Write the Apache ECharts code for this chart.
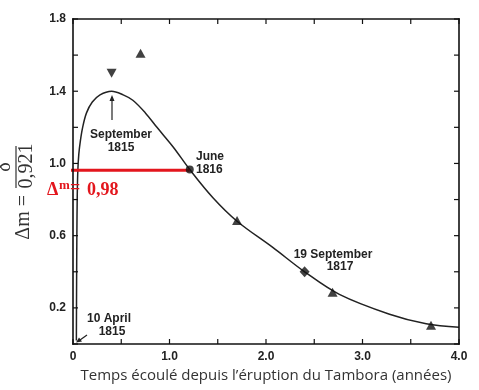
<!DOCTYPE html>
<html>
<head>
<meta charset="utf-8">
<script src="https://cdn.jsdelivr.net/npm/echarts@6/dist/echarts.min.js"></script>
<style>html,body{margin:0;padding:0;background:#fff}#c{width:479px;height:390px}</style>
</head>
<body>
<div id="c"></div>
<script>
// Fitted curve (time in years, Δm)
var curveX = [0.035, 0.037, 0.040, 0.044, 0.050, 0.060, 0.075, 0.10, 0.14, 0.20, 0.28, 0.40, 0.52, 0.62, 0.75, 0.87, 1.04, 1.21, 1.45, 1.70, 2.07, 2.40, 2.76, 3.28, 3.66, 4.0];
var curveY = [0.02, 0.30, 0.60, 0.82, 0.96, 1.05, 1.12, 1.20, 1.28, 1.34, 1.38, 1.40, 1.38, 1.35, 1.28, 1.20, 1.09, 0.966, 0.81, 0.68, 0.535, 0.40, 0.275, 0.165, 0.112, 0.093];
// Observations
var triUpX = [0.70, 1.70, 2.69, 3.71];
var triUpY = [1.61, 0.684, 0.286, 0.104];
var triDownX = [0.40];
var triDownY = [1.50];
var diamondX = [2.40];
var diamondY = [0.40];
var circleX = [1.21];
var circleY = [0.966];
// Red marker line
var redLineX = [-0.085, 1.21];
var redLineY = [0.963, 0.963];
// Ticks
var xTicks = [0, 0.5, 1, 1.5, 2, 2.5, 3, 3.5, 4];
var yTicks = [0, 0.2, 0.4, 0.6, 0.8, 1.0, 1.2, 1.4, 1.6, 1.8];
var xTickLabels = {0: '0', 1: '1.0', 2: '2.0', 3: '3.0', 4: '4.0'};
var yTickLabels = ['0.2', '0.6', '1.0', '1.4', '1.8'];

function pairs(xs, ys) { return xs.map(function (x, i) { return [x, ys[i]]; }); }

var chart = echarts.init(document.getElementById('c'));
function lblFont() { return {fontFamily: 'Liberation Sans', fontWeight: 'bold', fontSize: 12, color: '#222'}; }

chart.setOption({
  animation: false,
  grid: {left: 73, top: 19, right: 20, bottom: 46, show: false},
  xAxis: [{
    type: 'value', min: 0, max: 4, interval: 0.5,
    axisLine: {show: false}, axisTick: {show: false}, splitLine: {show: false},
    axisLabel: Object.assign({margin: 7, formatter: function (v) {
      return xTickLabels.hasOwnProperty(v) ? xTickLabels[v] : '';
    }}, lblFont()),
    name: 'Temps écoulé depuis l’éruption du Tambora (années)',
    nameLocation: 'middle', nameGap: 24,
    nameTextStyle: {fontFamily: 'Open Sans', fontSize: 15, color: '#333'}
  }],
  yAxis: [{
    type: 'value', min: 0, max: 1.8, interval: 0.2,
    axisLine: {show: false}, axisTick: {show: false}, splitLine: {show: false},
    axisLabel: Object.assign({margin: 7, formatter: function (v) {
      var s = v.toFixed(1);
      return yTickLabels.indexOf(s) >= 0 ? s : '';
    }}, lblFont())
  }],
  series: [
    {type: 'line', data: pairs(curveX, curveY), smooth: 0.35, showSymbol: false,
     lineStyle: {color: '#222', width: 1.5}, z: 2},
    {type: 'line', data: pairs(redLineX, redLineY), showSymbol: false, clip: false,
     lineStyle: {color: '#e3161d', width: 3}, z: 3},
    {type: 'scatter', data: pairs(triUpX, triUpY), symbol: 'triangle', symbolSize: [10, 9],
     itemStyle: {color: '#111'}, z: 4},
    {type: 'scatter', data: pairs(triDownX, triDownY), symbol: 'triangle', symbolRotate: 180, symbolSize: [10, 9],
     itemStyle: {color: '#111'}, z: 4},
    {type: 'scatter', data: pairs(diamondX, diamondY), symbol: 'diamond', symbolSize: [10, 11],
     itemStyle: {color: '#111'}, z: 4},
    {type: 'scatter', data: pairs(circleX, circleY), symbol: 'circle', symbolSize: 8,
     itemStyle: {color: '#111'}, z: 5}
  ]
});

// Frame and inward ticks as filled polygons, positioned through the axes' own scales
var X0 = chart.convertToPixel({xAxisIndex: 0}, 0);
var X1 = chart.convertToPixel({xAxisIndex: 0}, 4);
var Y0 = chart.convertToPixel({yAxisIndex: 0}, 0);
var Y1 = chart.convertToPixel({yAxisIndex: 0}, 1.8);
var frame = [];
var inks = ['#111111', '#121212', '#101010'];
var k = 0;
function box(xa, ya, xb, yb) {
  var l = Math.min(xa, xb), r = Math.max(xa, xb), tp = Math.min(ya, yb), b = Math.max(ya, yb);
  frame.push({type: 'polygon', z: 10, silent: true,
    shape: {points: [[l, tp], [r, tp], [r, b], [l, b]]},
    style: {fill: inks[(k++) % inks.length]}});
}
var hw = 0.8;
box(X0 - hw, Y0 - hw, X1 + hw, Y0 + hw);
box(X0 - hw, Y1 - hw, X1 + hw, Y1 + hw);
box(X0 - hw, Y1 - hw, X0 + hw, Y0 + hw);
box(X1 - hw, Y1 - hw, X1 + hw, Y0 + hw);
xTicks.forEach(function (v) {
  var px = chart.convertToPixel({xAxisIndex: 0}, v);
  box(px - 0.6, Y0, px + 0.6, Y0 - 5);
  box(px - 0.6, Y1, px + 0.6, Y1 + 5);
});
yTicks.forEach(function (v) {
  var py = chart.convertToPixel({yAxisIndex: 0}, v);
  box(X0, py - 0.6, X0 + 5, py + 0.6);
  box(X1, py - 0.6, X1 - 5, py + 0.6);
});

var annFont = 'bold 12px "Liberation Sans"';
function t(x, y, text, align) {
  return {type: 'text', x: x, y: y, z: 10, style: {text: text, font: annFont, fill: '#222',
    align: align || 'left', verticalAlign: 'middle'}};
}
var red = '#e3161d';
var graphics = frame.concat([
  t(121, 135, 'September', 'center'),
  t(121, 148, '1815', 'center'),
  {type: 'line', shape: {x1: 112, y1: 120, x2: 112, y2: 97}, style: {stroke: '#222', lineWidth: 1.2}, z: 10},
  {type: 'polygon', shape: {points: [[112, 95], [109.5, 101], [114.5, 101]]}, style: {fill: '#222'}, z: 10},
  t(196, 157, 'June', 'left'),
  t(196, 170, '1816', 'left'),
  t(333, 255, '19 September', 'center'),
  t(340, 267, '1817', 'center'),
  t(109, 319, '10 April', 'center'),
  t(112, 332, '1815', 'center'),
  {type: 'line', shape: {x1: 87, y1: 335, x2: 80, y2: 340}, style: {stroke: '#222', lineWidth: 1.2}, z: 10},
  {type: 'polygon', shape: {points: [[76, 342.5], [79, 337.5], [82, 341.5]]}, style: {fill: '#222'}, z: 10},
  {type: 'text', x: 47, y: 190, z: 11, style: {text: 'Δ', font: 'bold 18px "Liberation Serif"', fill: red, verticalAlign: 'middle'}},
  {type: 'text', x: 59, y: 186, z: 11, style: {text: 'm', font: 'bold 13px "Liberation Serif"', fill: red, verticalAlign: 'middle'}},
  {type: 'text', x: 70, y: 188, z: 11, style: {text: '=', font: 'bold 18px "Liberation Serif"', fill: red, verticalAlign: 'middle'}},
  {type: 'text', x: 87, y: 190, z: 11, style: {text: '0,98', font: 'bold 18px "Liberation Serif"', fill: red, verticalAlign: 'middle'}},
  {type: 'group', x: 16, y: 166, rotation: Math.PI / 2, z: 10, children: [
    {type: 'line', shape: {x1: -22, y1: 0, x2: 20, y2: 0}, style: {stroke: '#333', lineWidth: 1.2}},
    {type: 'text', x: -1, y: -1, style: {text: 'δ', font: '20px "Liberation Serif"', fill: '#333', align: 'center', verticalAlign: 'bottom'}},
    {type: 'text', x: 0, y: 1, style: {text: '0,921', font: '20px "Liberation Serif"', fill: '#333', align: 'center', verticalAlign: 'top'}},
    {type: 'text', x: -29, y: 8, style: {text: 'Δm =', font: '20px "Liberation Serif"', fill: '#333', align: 'right', verticalAlign: 'middle'}}
  ]}
]);
chart.setOption({graphic: graphics});
</script>
</body>
</html>
